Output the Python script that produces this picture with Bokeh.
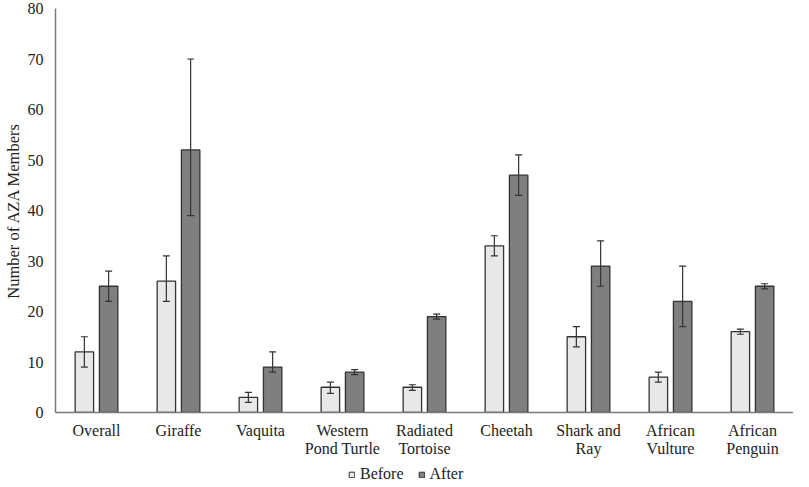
from bokeh.plotting import figure
from bokeh.layouts import column
from bokeh.models import (ColumnDataSource, Whisker, TeeHead, FixedTicker, Legend, LegendItem, Range1d)
from bokeh.embed import file_html
from bokeh.resources import INLINE

categories = ["Overall", "Giraffe", "Vaquita", "Western\nPond Turtle", "Radiated\nTortoise",
              "Cheetah", "Shark and\nRay", "African\nVulture", "African\nPenguin"]
before = [12, 26, 3, 5, 5, 33, 15, 7, 16]
before_lo = [9, 22, 2, 3.8, 4.4, 31, 13, 6, 15.5]
before_hi = [15, 31, 4, 6, 5.5, 35, 17, 8, 16.5]
after = [25, 52, 9, 8, 19, 47, 29, 22, 25]
after_lo = [22, 39, 8, 7.5, 18.5, 43, 25, 17, 24.5]
after_hi = [28, 70, 12, 8.5, 19.5, 51, 34, 29, 25.5]
y_ticks = [0, 10, 20, 30, 40, 50, 60, 70, 80]
series = ["Before", "After"]

FONT = "Liberation Serif"
BEFORE_FILL = "#e8e8e8"
AFTER_FILL = "#7f7f7f"
EDGE = "#333333"
n = len(categories)
xc = [i + 0.5 for i in range(n)]
off = 0.148
bw = 0.225

src_b = ColumnDataSource(dict(x=[v - off for v in xc], top=before, lo=before_lo, hi=before_hi))
src_a = ColumnDataSource(dict(x=[v + off for v in xc], top=after, lo=after_lo, hi=after_hi))

p = figure(width=793, height=460, output_backend="svg", toolbar_location=None,
           x_range=Range1d(0, n), y_range=Range1d(0, 80),
           min_border_left=0, min_border_right=0, min_border_top=8, min_border_bottom=40)
p.outline_line_color = None
p.xgrid.visible = False
p.ygrid.visible = False

p.vbar(x="x", top="top", width=bw, bottom=0, source=src_b,
       fill_color=BEFORE_FILL, line_color=EDGE, line_width=1.3)
p.vbar(x="x", top="top", width=bw, bottom=0, source=src_a,
       fill_color=AFTER_FILL, line_color=EDGE, line_width=1.3)

for src in (src_b, src_a):
    w = Whisker(source=src, base="x", lower="lo", upper="hi",
                line_color=EDGE, line_width=1.2, level="overlay",
                upper_head=TeeHead(size=7, line_color=EDGE, line_width=1.2),
                lower_head=TeeHead(size=7, line_color=EDGE, line_width=1.2))
    p.add_layout(w)

p.xaxis.ticker = FixedTicker(ticks=xc)
p.xaxis.major_label_overrides = {v: c for v, c in zip(xc, categories)}
p.yaxis.ticker = FixedTicker(ticks=y_ticks)
for ax in (p.xaxis, p.yaxis):
    ax.axis_line_color = "#7a7a7a"
    ax.axis_line_width = 1.5
    ax.major_tick_line_color = None
    ax.minor_tick_line_color = None
    ax.major_label_text_font = FONT
    ax.major_label_text_font_size = "16px"
    ax.major_label_text_color = "#222222"
p.xaxis.major_label_standoff = 3
p.xaxis.major_label_text_line_height = 1.1
p.yaxis.major_label_standoff = 6
p.yaxis.axis_label = "Number of AZA Members"
p.yaxis.axis_label_text_font = FONT
p.yaxis.axis_label_text_font_size = "16.5px"
p.yaxis.axis_label_text_font_style = "normal"
p.yaxis.axis_label_text_color = "#222222"
p.yaxis.axis_label_standoff = 2

# legend strip below the chart (dummy glyphs kept out of view)
lf = figure(width=793, height=24, output_backend="svg", toolbar_location=None,
            x_range=Range1d(0, 1), y_range=Range1d(0, 1), min_border=0)
lf.axis.visible = False
lf.grid.visible = False
lf.outline_line_color = None
dummy = ColumnDataSource(dict(x=[-5], top=[-5]))
lb = lf.vbar(x="x", top="top", bottom=-6, width=0.1, source=dummy,
             fill_color=BEFORE_FILL, line_color=EDGE, line_width=1)
la = lf.vbar(x="x", top="top", bottom=-6, width=0.1, source=dummy,
             fill_color=AFTER_FILL, line_color=EDGE, line_width=1)
legend = Legend(items=[LegendItem(label=series[0], renderers=[lb]),
                       LegendItem(label=series[1], renderers=[la])],
                orientation="horizontal", location=(293, 1),
                label_text_font=FONT, label_text_font_size="16px", label_text_color="#222222",
                label_height=16,
                glyph_width=7, glyph_height=7, label_standoff=5, spacing=14,
                padding=0, margin=0, border_line_color=None, background_fill_alpha=0)
lf.add_layout(legend, "center")

layout = column(p, lf, spacing=0)
open("out.html", "w").write(file_html(layout, INLINE))
